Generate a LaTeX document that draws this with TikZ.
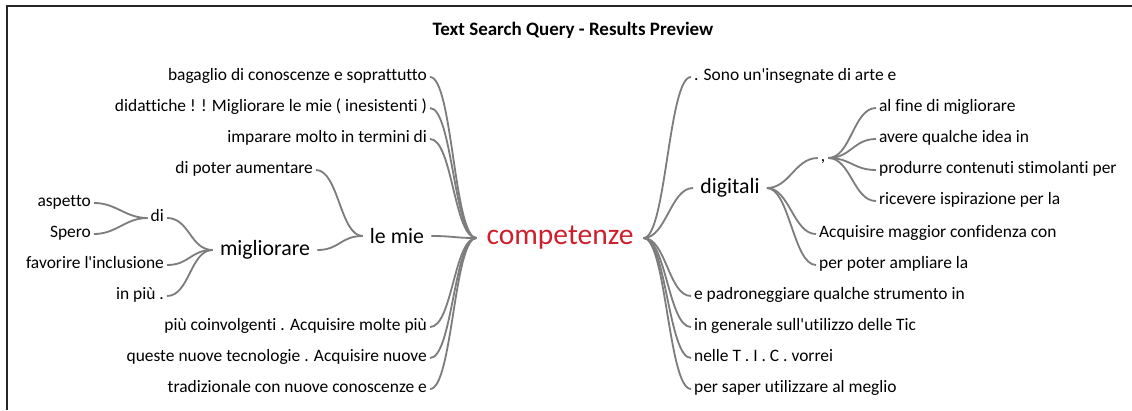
\documentclass[tikz,border=0pt]{standalone}
\usepackage{fontspec}
\setmainfont{Carlito}[Ligatures={CommonOff,TeXOff}]
\definecolor{rootred}{RGB}{206,32,44}
\definecolor{linkgray}{RGB}{125,125,125}
\tikzstyle{leaf} = [font=\fontsize{12.4}{14}\selectfont, inner xsep=2pt, inner ysep=0pt, text height=7.5pt, text depth=2pt]
\tikzstyle{twig} = [font=\fontsize{15.5}{18}\selectfont, inner xsep=5pt, inner ysep=0pt]
\tikzstyle{hub} = [font=\fontsize{21}{25}\selectfont, text=rootred, inner xsep=7pt, inner ysep=0pt]
\tikzstyle{link} = [draw=linkgray, line width=1.3pt]
\tikzstyle{tol} = [link, out=180, in=0, out distance=16pt, in distance=16pt]
\tikzstyle{tor} = [link, out=0, in=180, out distance=16pt, in distance=16pt]

\begin{document}
\begin{tikzpicture}[x=0.025cm, y=-0.025cm]
\useasboundingbox (0,0) rectangle (1132,410);
\draw [line width=1.2pt, black!85] (1132,6) -- (7,6) -- (7,410);
\node (title) [font=\bfseries\fontsize{13.5}{16}\selectfont] at (573,30) {Text Search Query - Results Preview};
% centre
\node (comp) [hub] at (560,238) {competenze};
% left side
\node (lemie) [twig] at (397,236) {le mie};
\node (migl) [twig] at (265,250) {migliorare};
\node (di) [leaf, anchor=east] at (167,218) {di};
\node (l1) [leaf, anchor=east] at (430,77) {bagaglio di conoscenze e soprattutto};
\node (l2) [leaf, anchor=east] at (430,108) {didattiche ! ! Migliorare le mie ( inesistenti )};
\node (l3) [leaf, anchor=east] at (430,139) {imparare molto in termini di};
\node (l4) [leaf, anchor=east] at (316,170) {di poter aumentare};
\node (l5) [leaf, anchor=east] at (94,203) {aspetto};
\node (l6) [leaf, anchor=east] at (94,234) {Spero};
\node (l7) [leaf, anchor=east] at (167,265) {favorire l'inclusione};
\node (l8) [leaf, anchor=east] at (167,296) {in più .};
\node (l9) [leaf, anchor=east] at (430,327) {più coinvolgenti . Acquisire molte più};
\node (l10) [leaf, anchor=east] at (430,358) {queste nuove tecnologie . Acquisire nuove};
\node (l11) [leaf, anchor=east] at (430,389) {tradizionale con nuove conoscenze e};
% right side
\node (digi) [twig] at (730,188) {digitali};
\node (comma) [leaf] at (823,158) {,};
\node (r1) [leaf, anchor=west] at (691,77) {. Sono un'insegnate di arte e};
\node (r2) [leaf, anchor=west] at (876,108) {al fine di migliorare};
\node (r3) [leaf, anchor=west] at (876,139) {avere qualche idea in};
\node (r4) [leaf, anchor=west] at (876,170) {produrre contenuti stimolanti per};
\node (r5) [leaf, anchor=west] at (876,201) {ricevere ispirazione per la};
\node (r6) [leaf, anchor=west] at (816,234) {Acquisire maggior confidenza con};
\node (r7) [leaf, anchor=west] at (816,265) {per poter ampliare la};
\node (r8) [leaf, anchor=west] at (691,296) {e padroneggiare qualche strumento in};
\node (r9) [leaf, anchor=west] at (691,327) {in generale sull'utilizzo delle Tic};
\node (r10) [leaf, anchor=west] at (691,358) {nelle T . I . C . vorrei};
\node (r11) [leaf, anchor=west] at (691,389) {per saper utilizzare al meglio};
% links left
\foreach \n in {l1,l2,l3,lemie,l9,l10,l11}
  \draw [tol] (comp.west) to (\n.east);
\draw [tol] (lemie.west) to (l4.east);
\draw [tol] (lemie.west) to (migl.east);
\draw [tol] (migl.west) to (di.east);
\draw [tol] (migl.west) to (l7.east);
\draw [tol] (migl.west) to (l8.east);
\draw [tol] (di.west) to (l5.east);
\draw [tol] (di.west) to (l6.east);
% links right
\foreach \n in {r1,digi,r8,r9,r10,r11}
  \draw [tor] (comp.east) to (\n.west);
\draw [tor] (digi.east) to (comma.west);
\draw [tor] (digi.east) to (r6.west);
\draw [tor] (digi.east) to (r7.west);
\foreach \n in {r2,r3,r4,r5}
  \draw [tor] (comma.east) to (\n.west);
\end{tikzpicture}
\end{document}
